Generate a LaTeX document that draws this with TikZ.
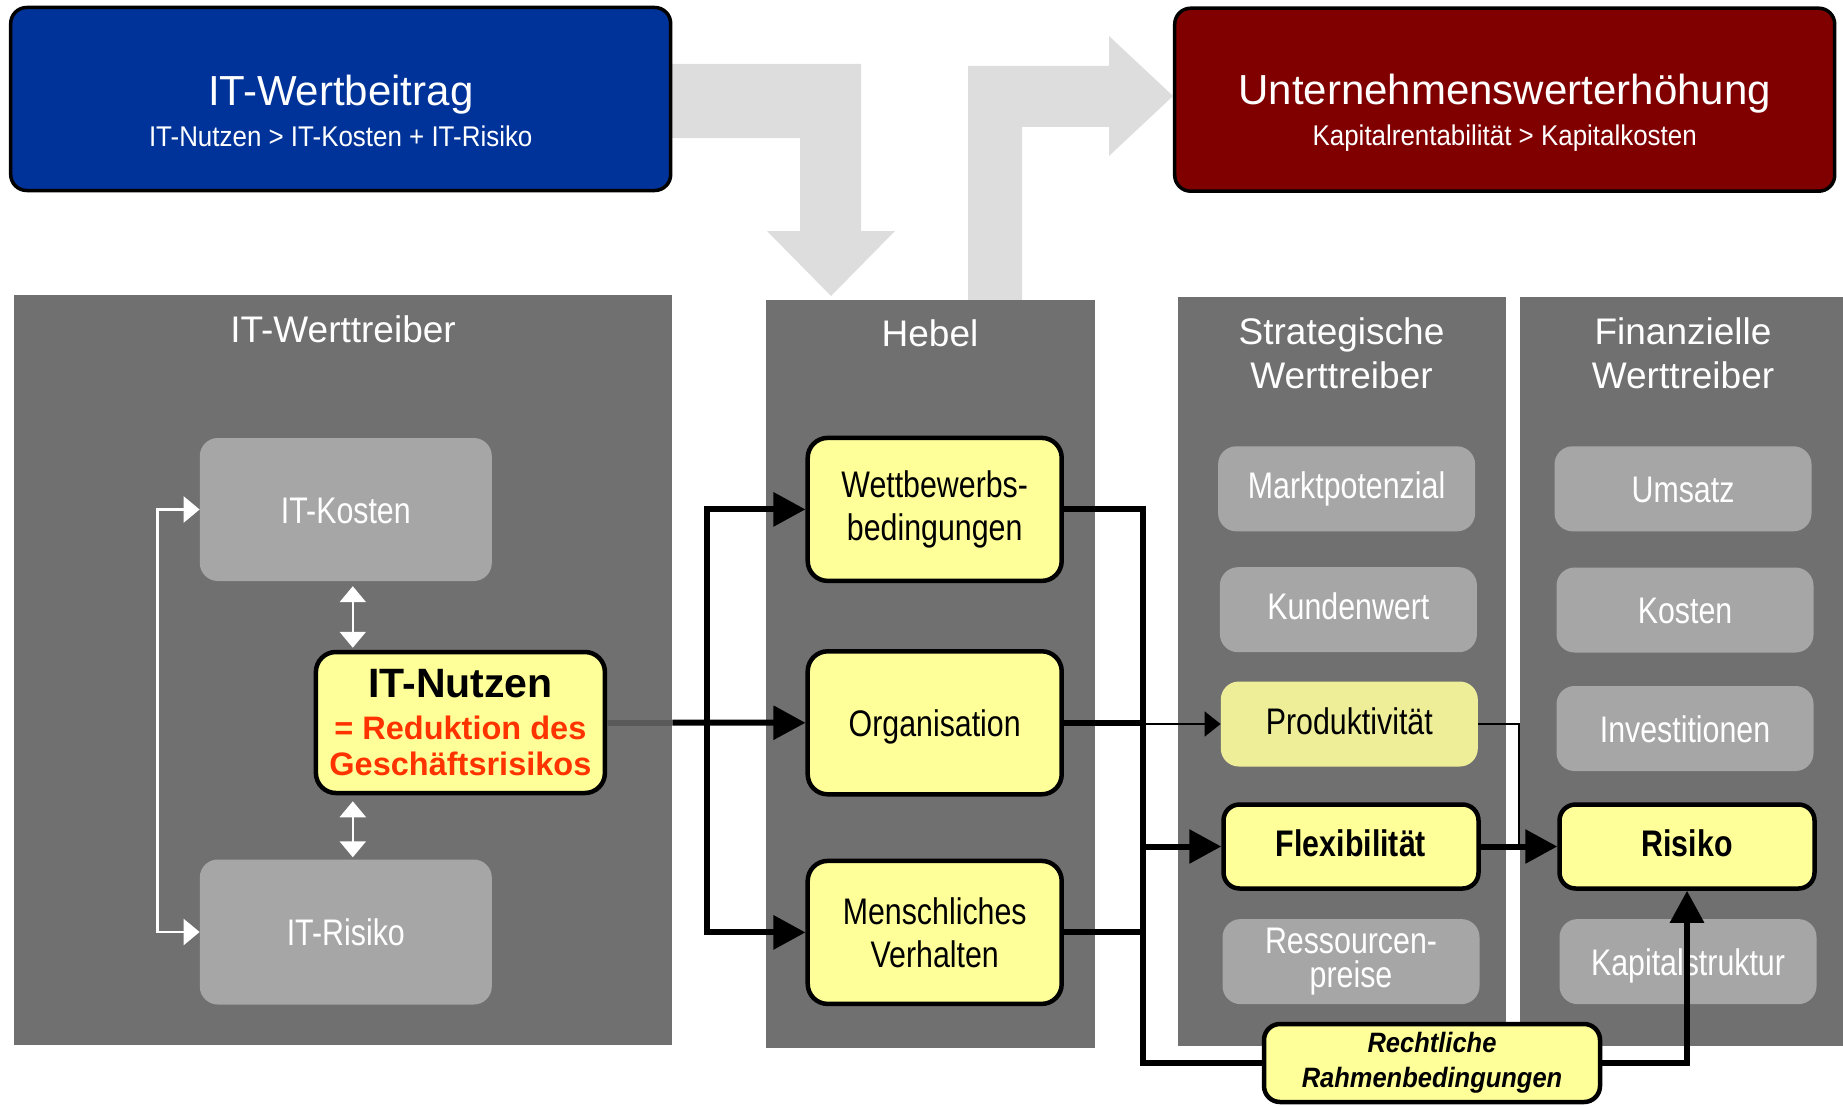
\documentclass[tikz,border=0pt]{standalone}
\usepackage{fontspec}
\setmainfont{Liberation Sans}
\newfontfamily\labelfont[FakeStretch=0.82]{Liberation Sans}
\newfontfamily\subfont[FakeStretch=0.91]{Liberation Sans}
\usetikzlibrary{arrows.meta,calc}

\definecolor{itblue}{HTML}{003399}
\definecolor{itred}{HTML}{800000}
\definecolor{boxyellow}{HTML}{FFFF99}
\definecolor{prodyellow}{HTML}{EEEE99}
\definecolor{panelgray}{HTML}{707070}
\definecolor{fadegray}{HTML}{A6A6A6}
\definecolor{arrowgray}{HTML}{DDDDDD}
\definecolor{riskred}{HTML}{FF3300}

\begin{document}
\begin{tikzpicture}[x=1pt,y=-1pt,
	panel/.style={fill=panelgray, inner sep=0pt, anchor=north west},
	paneltitle/.style={text=white, font=\fontsize{37}{44.5}\selectfont, align=center, inner sep=0pt},
	faded/.style={fill=fadegray, rounded corners=18pt, text=white, align=center,
		font=\labelfont\fontsize{37}{34}\selectfont, minimum width=257pt, minimum height=85pt},
	onebox/.style={text height=27pt, text depth=7pt},
	yellowbox/.style={draw=black, line width=4.5pt, fill=boxyellow, rounded corners=20pt, align=center,
		font=\labelfont\fontsize{37}{43}\selectfont},
	hebelbox/.style={yellowbox, minimum width=254pt, minimum height=143pt},
	drivebox/.style={yellowbox, rounded corners=16pt, font=\labelfont\bfseries\fontsize{37}{43}\selectfont,
		minimum width=255pt, minimum height=84pt, text height=27pt, text depth=7pt},
	headbox/.style={draw=black, line width=3.5pt, rounded corners=16pt, text=white, align=center,
		font=\fontsize{28.5}{41}\selectfont, minimum width=660pt, minimum height=183pt},
	thickline/.style={line width=6pt},
	thickarrow/.style={thickline, -{Triangle[length=32pt,width=33pt]}},
	thinarrow/.style={line width=2pt, -{Triangle[length=16pt,width=25pt]}},
	whitearrow/.style={white, line width=2.5pt, {Triangle[length=16pt,width=26pt]}-{Triangle[length=16pt,width=26pt]}}
]
\useasboundingbox (0,0) rectangle (1843,1105);

% grosse graue Pfeile
\fill[arrowgray] (660,64) -- (861,64) -- (861,231) -- (895,231) -- (831,296) -- (767,231) -- (800,231) -- (800,138) -- (660,138) -- cycle;
\fill[arrowgray] (968,310) -- (968,66) -- (1109,66) -- (1109,36) -- (1173,96) -- (1109,156) -- (1109,127) -- (1022,127) -- (1022,310) -- cycle;

% Kopf
\node[headbox, fill=itblue] (wert) at (340.7,99) {{\fontsize{42}{41}\selectfont\rule{0pt}{55pt}IT-Wertbeitrag}\\{\subfont IT-Nutzen > IT-Kosten + IT-Risiko}};
\node[headbox, fill=itred] (unter) at (1504.7,99.7) {{\fontsize{42}{41}\selectfont\rule{0pt}{56pt}Unternehmenswerterhöhung}\\{\subfont Kapitalrentabilität > Kapitalkosten}};

% Spalten
\node[panel, minimum width=658pt, minimum height=750pt] (wtpanel) at (14,295) {};
\node[panel, minimum width=329pt, minimum height=748pt] (hebel) at (766,300) {};
\node[panel, minimum width=328pt, minimum height=749pt] (strat) at (1177.5,297) {};
\node[panel, minimum width=323pt, minimum height=749pt] (finanz) at (1520,297) {};

\node[paneltitle, anchor=base] (wttitle) at (343,342) {IT-Werttreiber};
\node[paneltitle, anchor=base] (hebeltitle) at (930,346) {Hebel};
\node[paneltitle, anchor=north] (strattitle) at (1341.5,317) {Strategische\\Werttreiber};
\node[paneltitle, anchor=north] (finanztitle) at (1683,317) {Finanzielle\\Werttreiber};

% IT-Werttreiber
\node[faded, onebox, minimum width=292pt, minimum height=143pt, text depth=-2pt] (itkosten) at (345.8,509.5) {IT-Kosten};
\node[faded, onebox, minimum width=292pt, minimum height=145pt, text depth=-2pt] (itrisiko) at (345.8,932) {IT-Risiko};
\node[yellowbox, minimum width=289pt, minimum height=141pt, font=\fontsize{32.5}{36}\selectfont\bfseries] (nutzen) at (460.4,722.5)
	{{\fontsize{41}{41}\selectfont IT-Nutzen}\\[6pt]{\color{riskred}= Reduktion des}\\{\color{riskred}Geschäftsrisikos}};

% Hebel
\node[hebelbox] (wettb) at (934.7,509.4) {Wettbewerbs-\\bedingungen};
\node[hebelbox, text height=27pt, text depth=-3pt] (org) at (934.7,722.8) {Organisation};
\node[hebelbox] (mensch) at (934.7,932.4) {Menschliches\\Verhalten};

% Strategische Werttreiber
\node[faded, onebox] (markt) at (1346.6,488.8) {Marktpotenzial};
\node[faded, onebox] (kunden) at (1348.4,609.7) {Kundenwert};
\node[faded, onebox, fill=prodyellow, text=black] (prod) at (1349.3,724) {Produktivität};
\node[drivebox] (flex) at (1351,846.5) {Flexibilität};
\node[faded] (ressourcen) at (1351,961.6) {Ressourcen-\\preise};

% Finanzielle Werttreiber
\node[faded, onebox, text depth=-1pt] (umsatz) at (1683,488.8) {Umsatz};
\node[faded, onebox, text depth=-1pt] (kosten) at (1685,610) {Kosten};
\node[faded, onebox, text depth=-1pt] (invest) at (1685,728.5) {Investitionen};
\node[drivebox] (risiko) at (1687,846.5) {Risiko};
\node[faded, onebox, text depth=-3pt] (kapital) at (1688,961.6) {Kapitalstruktur};

\node[yellowbox, minimum width=336pt, minimum height=78pt, rounded corners=16pt,
	font=\subfont\bfseries\itshape\fontsize{28}{35}\selectfont] (legal) at (1432,1063) {Rechtliche\\Rahmenbedingungen};

% weisse Pfeile
\coordinate (dx) at ([xshift=7pt]itkosten.south);
\draw[whitearrow] (itkosten.west) -- ++(-42,0) |- (itrisiko.west);
\draw[whitearrow, shorten <=5pt, shorten >=2pt] (dx) -- (dx |- nutzen.north);
\draw[whitearrow, shorten <=6pt, shorten >=2pt] (dx |- nutzen.south) -- (dx |- itrisiko.north);

% Verbindungen
\coordinate (lsplit) at (707,723);
\coordinate (rail) at (1143,723);
\draw[thickline, black!65] (nutzen.east) -- (nutzen.east -| wtpanel.east);
\draw[thickarrow] (nutzen.east -| wtpanel.east) -- (org.west);
\draw[thickarrow] (lsplit) |- (wettb.west);
\draw[thickarrow] (lsplit) |- (mensch.west);

\draw[thickline] (wettb.east) -| (rail |- legal.west) -- (legal.west);
\draw[thickline] (mensch.east) -- (mensch.east -| rail);
\draw[thickline] (org.east) -- (org.east -| rail);
\draw[thinarrow] (prod.west -| rail) -- (prod.west);
\draw[thickarrow] (flex.west -| rail) -- (flex.west);
\draw[line width=2pt] (prod.east) -| ($(flex.east)!0.5!(risiko.west)$);
\draw[thickarrow] (flex.east) -- (risiko.west);
\draw[thickarrow] (legal.east) -| (risiko.south);
\end{tikzpicture}
\end{document}
